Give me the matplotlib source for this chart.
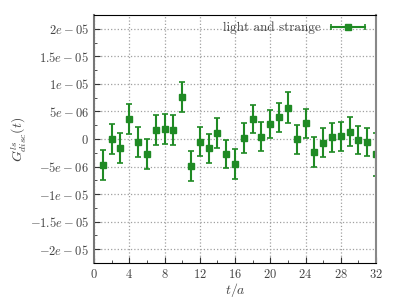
import matplotlib
matplotlib.use('Agg')
import matplotlib.pyplot as plt
from matplotlib.ticker import MultipleLocator, FuncFormatter
from matplotlib.lines import Line2D
from matplotlib.legend_handler import HandlerLine2D, HandlerTuple

# correlateur deconnecte, light and strange
t = list(range(1, 33))
G = [-4.73, -0.05, -1.7, 3.64, -0.5, -2.73, 1.64, 1.88, 1.64, 7.58,
     -4.85, -0.5, -1.7, 1.03, -2.73, -4.6, 0.12, 3.64, 0.42, 2.73,
     3.94, 5.7, -0.05, 2.85, -2.42, -0.67, 0.3, 0.48, 1.33, -0.18,
     -0.55, -2.8]
err = [2.7, 2.75, 2.7, 2.7, 2.7, 2.75, 2.75, 2.7, 2.7, 2.7,
       2.7, 2.6, 2.6, 2.7, 2.6, 2.7, 2.7, 2.6, 2.6, 2.6,
       2.6, 2.75, 2.6, 2.6, 2.7, 2.6, 2.6, 2.6, 2.6, 2.6,
       2.6, 3.9]
G = [g * 1e-6 for g in G]
err = [e * 1e-6 for e in err]

yticks = [-2e-5, -1.5e-5, -1e-5, -5e-6, 0, 5e-6, 1e-5, 1.5e-5, 2e-5]
ylabels = ['-2e-05', '-1.5e-05', '-1e-05', '-5e-06', '0',
           '5e-06', '1e-05', '1.5e-05', '2e-05']

vert = '#1f8a24'

plt.rcParams['mathtext.fontset'] = 'cm'
plt.rcParams['font.family'] = ['DejaVu Serif']

fig = plt.figure(figsize=(3.99, 2.99), dpi=100)
ax = fig.add_axes([0.2356, 0.1204, 0.7068, 0.8294])

ax.errorbar(t, G, yerr=err, fmt='s', color=vert, ecolor=vert,
            markersize=5, capsize=2, elinewidth=1.5, capthick=1.2)

ax.set_xlim(0, 32)
ax.set_ylim(-2.25e-5, 2.25e-5)
ax.xaxis.set_major_locator(MultipleLocator(4))
ax.xaxis.set_minor_locator(MultipleLocator(2))
ax.yaxis.set_minor_locator(MultipleLocator(2.5e-6))
ax.set_yticks(yticks)
ax.set_yticklabels(['$' + s + '$' for s in ylabels])
ax.xaxis.set_major_formatter(FuncFormatter(lambda v, p: '$%d$' % v))
ax.tick_params(which='both', direction='in', top=False, right=False,
               labelsize=9, colors='#333333')
ax.tick_params(which='major', length=4)
ax.tick_params(which='minor', length=2)
for lab in ax.get_xticklabels() + ax.get_yticklabels():
    lab.set_color('#444444')

ax.grid(True, which='major', linestyle=':', color='#a0a0a0', linewidth=0.9)
ax.spines['left'].set_color('#777777')
ax.spines['left'].set_linewidth(1.5)
ax.spines['right'].set_color('#888888')
ax.spines['right'].set_linewidth(1.5)
ax.spines['top'].set_color('black')
ax.spines['bottom'].set_color('black')

ax.set_xlabel('$t/a$', fontsize=10, color='#444444', labelpad=0)
ax.set_ylabel('$G^{ls}_{disc}(t)$', fontsize=10, color='#444444', labelpad=1)

# legende : barre horizontale avec caps + carre par-dessus
barre = Line2D([], [], color=vert, linestyle='-', linewidth=1.5,
               marker='|', markersize=5, markeredgewidth=1.2)
carre = Line2D([], [], color=vert, linestyle='none', marker='s', markersize=5)
leg = ax.legend([(barre, carre)], ['light and strange'], loc='upper right',
                frameon=False, markerfirst=False, handlelength=3.2,
                handletextpad=0.5, borderaxespad=0.1,
                handler_map={barre: HandlerLine2D(numpoints=2),
                             carre: HandlerLine2D(numpoints=1),
                             tuple: HandlerTuple(ndivide=1, pad=0)},
                prop={'family': 'cmr10', 'size': 9.5})
for txt in leg.get_texts():
    txt.set_color('#444444')

fig.savefig('out.png', dpi=100)
